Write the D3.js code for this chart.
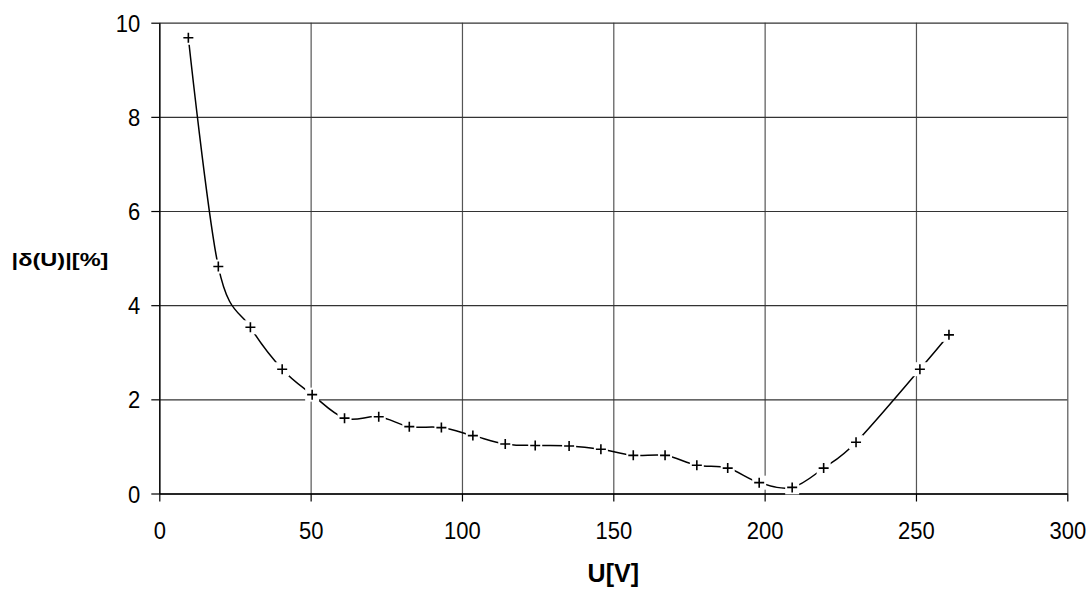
<!DOCTYPE html>
<html><head><meta charset="utf-8">
<script src="https://cdn.jsdelivr.net/npm/d3@7"></script>
<style>
html,body{margin:0;padding:0;background:#fff;}
svg{display:block;font-family:"Liberation Sans",Arial,sans-serif;}
</style></head>
<body>
<svg id="chart" width="1092" height="589"></svg>
<script>
// Data
const uValues = [9.6, 19.5, 30.1, 40.6, 50.5, 61.2, 72.5, 82.6, 93.2, 103.6, 114.3, 124.2,
                 135.4, 145.9, 156.6, 167.1, 177.6, 187.8, 198.2, 209.1, 219.5, 230.2, 251.3, 260.9];
const deltaValues = [9.68, 4.82, 3.53, 2.64, 2.10, 1.60, 1.63, 1.42, 1.40, 1.23, 1.05, 1.02,
                     1.01, 0.94, 0.81, 0.81, 0.60, 0.54, 0.23, 0.13, 0.54, 1.09, 2.64, 3.37];
const xTicks = [0, 50, 100, 150, 200, 250, 300];
const yTicks = [0, 2, 4, 6, 8, 10];
const xTitle = "U[V]";
const yTitle = "|δ(U)|[%]";

const W = 1092, H = 589;
const m = {left: 159.3, right: 24.7, top: 22.7, bottom: 95.5};
const w = W - m.left - m.right, h = H - m.top - m.bottom;
const svg = d3.select("#chart");
const g = svg.append("g").attr("transform", `translate(${m.left},${m.top})`);

const x = d3.scaleLinear().domain([0, 300]).range([0, w]);
const y = d3.scaleLinear().domain([0, 10]).range([h, 0]);

// gridlines
const gx = g.append("g").attr("transform", `translate(0,${h})`)
  .call(d3.axisBottom(x).tickValues(xTicks).tickSize(-h).tickFormat(""));
gx.select(".domain").remove();
gx.selectAll("line").attr("stroke", "#555").attr("stroke-width", 1.2);
const gy = g.append("g")
  .call(d3.axisLeft(y).tickValues(yTicks).tickSize(-w).tickFormat(""));
gy.select(".domain").remove();
gy.selectAll("line").attr("stroke", "#333").attr("stroke-width", 1.2);

// axes with outward ticks and labels
const ax = g.append("g").attr("transform", `translate(0,${h})`)
  .call(d3.axisBottom(x).tickValues(xTicks).tickSizeInner(8).tickSizeOuter(0).tickFormat(d3.format("d")));
ax.select(".domain").attr("stroke", "#000").attr("stroke-width", 1.3);
ax.selectAll("line").attr("stroke", "#000").attr("stroke-width", 1.2);
ax.selectAll("text").attr("y", null).attr("dy", null)
  .attr("transform", "translate(0,45.5) scale(1,1.1)")
  .attr("font-size", 22).attr("fill", "#000");

const ay = g.append("g")
  .call(d3.axisLeft(y).tickValues(yTicks).tickSizeInner(8).tickSizeOuter(0).tickFormat(d3.format("d")));
ay.select(".domain").attr("stroke", "#000").attr("stroke-width", 1.3);
ay.selectAll("line").attr("stroke", "#000").attr("stroke-width", 1.2);
ay.selectAll("text").attr("x", null).attr("dy", null)
  .attr("transform", "translate(-19,8.5) scale(1,1.1)")
  .attr("font-size", 22).attr("fill", "#000");

const data = uValues.map((u, i) => ({u, d: deltaValues[i]}));

// smoothed line
const line = d3.line().x(p => x(p.u)).y(p => y(p.d)).curve(d3.curveCardinal.tension(0));
g.append("path").datum(data).attr("d", line)
  .attr("fill", "none").attr("stroke", "#000").attr("stroke-width", 1.5);

// markers with white background
const mk = g.append("g").selectAll("g").data(data).join("g")
  .attr("transform", p => `translate(${x(p.u)},${y(p.d)})`);
mk.append("rect").attr("x", -7).attr("y", -7).attr("width", 14).attr("height", 14).attr("fill", "#fff");
mk.append("path").attr("d", "M-5,0H5M0,-5V5").attr("stroke", "#000").attr("stroke-width", 1.6);

// titles
svg.append("text").attr("transform", `translate(${m.left + x(150)},581.5)`)
  .attr("text-anchor", "middle").attr("font-size", 25).attr("font-weight", "bold").text(xTitle);
svg.append("text").attr("transform", `translate(60,265.5) scale(1.31,1)`)
  .attr("text-anchor", "middle").attr("font-size", 18).attr("font-weight", "bold").text(yTitle);
</script>
</body></html>
